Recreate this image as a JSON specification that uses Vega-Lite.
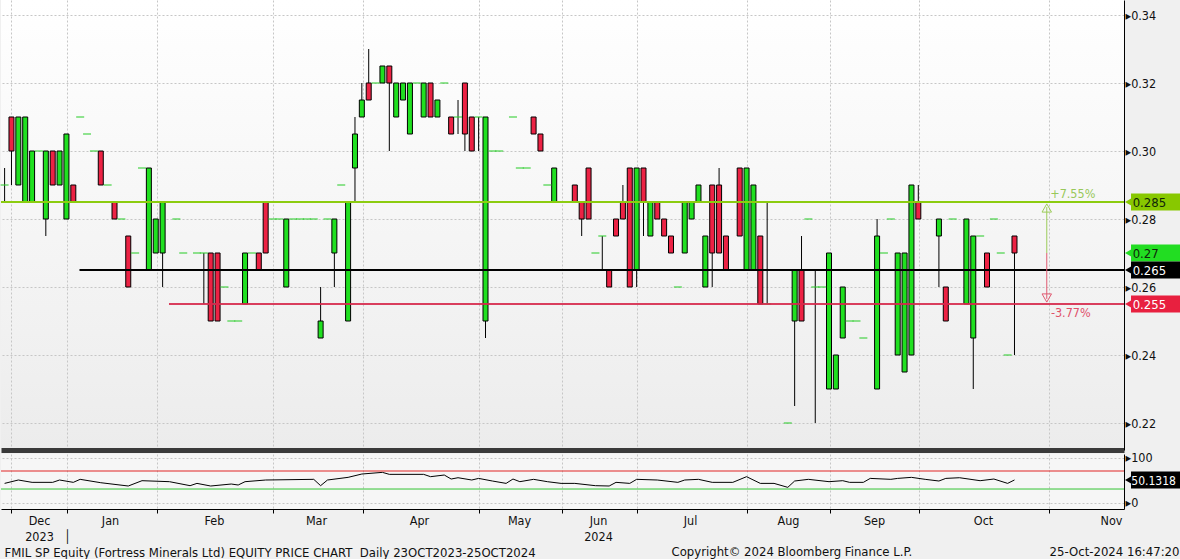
{
  "$schema": "https://vega.github.io/schema/vega-lite/v6.json",
  "background": "#f0f0f0",
  "padding": 0,
  "autosize": {"type": "pad"},
  "bounds": "flush",
  "spacing": 4,
  "config": {
    "view": {"stroke": null},
    "font": "DejaVu Sans Condensed, DejaVu Sans",
    "axis": {"labelFont": "DejaVu Sans Condensed, DejaVu Sans", "titleFont": "DejaVu Sans Condensed, DejaVu Sans", "labelFontSize": 12.5, "labelColor": "#111111", "titleFontSize": 13, "titleFontWeight": "normal", "titleColor": "#111111"},
    "text": {"font": "DejaVu Sans Condensed, DejaVu Sans"}
  },
  "datasets": {
    "one": [{}],
    "candles": [
      {"i":0,"o":0.29,"h":0.295,"l":0.285,"c":0.29},
      {"i":1,"o":0.31,"h":0.31,"l":0.29,"c":0.30},
      {"i":2,"o":0.29,"h":0.31,"l":0.29,"c":0.31},
      {"i":3,"o":0.285,"h":0.31,"l":0.285,"c":0.31},
      {"i":4,"o":0.285,"h":0.30,"l":0.285,"c":0.30},
      {"i":5,"o":0.30,"h":0.30,"l":0.30,"c":0.30},
      {"i":6,"o":0.28,"h":0.30,"l":0.275,"c":0.30},
      {"i":7,"o":0.30,"h":0.30,"l":0.29,"c":0.29},
      {"i":8,"o":0.29,"h":0.30,"l":0.29,"c":0.30},
      {"i":9,"o":0.28,"h":0.305,"l":0.28,"c":0.305},
      {"i":10,"o":0.29,"h":0.29,"l":0.285,"c":0.285},
      {"i":11,"o":0.31,"h":0.31,"l":0.31,"c":0.31},
      {"i":12,"o":0.305,"h":0.305,"l":0.305,"c":0.305},
      {"i":13,"o":0.30,"h":0.30,"l":0.30,"c":0.30},
      {"i":14,"o":0.30,"h":0.30,"l":0.29,"c":0.29},
      {"i":15,"o":0.29,"h":0.29,"l":0.29,"c":0.29},
      {"i":16,"o":0.285,"h":0.285,"l":0.28,"c":0.28},
      {"i":17,"o":0.28,"h":0.28,"l":0.28,"c":0.28},
      {"i":18,"o":0.275,"h":0.275,"l":0.26,"c":0.26},
      {"i":19,"o":0.27,"h":0.27,"l":0.27,"c":0.27},
      {"i":20,"o":0.295,"h":0.295,"l":0.295,"c":0.295},
      {"i":21,"o":0.265,"h":0.295,"l":0.265,"c":0.295},
      {"i":22,"o":0.27,"h":0.28,"l":0.27,"c":0.28},
      {"i":23,"o":0.27,"h":0.285,"l":0.26,"c":0.285},
      {"i":25,"o":0.28,"h":0.28,"l":0.28,"c":0.28},
      {"i":26,"o":0.27,"h":0.27,"l":0.27,"c":0.27},
      {"i":28,"o":0.27,"h":0.27,"l":0.27,"c":0.27},
      {"i":29,"o":0.27,"h":0.27,"l":0.255,"c":0.27},
      {"i":30,"o":0.27,"h":0.27,"l":0.25,"c":0.25},
      {"i":31,"o":0.27,"h":0.27,"l":0.25,"c":0.25},
      {"i":32,"o":0.26,"h":0.26,"l":0.26,"c":0.26},
      {"i":33,"o":0.25,"h":0.25,"l":0.25,"c":0.25},
      {"i":34,"o":0.25,"h":0.25,"l":0.25,"c":0.25},
      {"i":35,"o":0.255,"h":0.27,"l":0.255,"c":0.27},
      {"i":36,"o":0.27,"h":0.27,"l":0.27,"c":0.27},
      {"i":37,"o":0.27,"h":0.27,"l":0.265,"c":0.265},
      {"i":38,"o":0.285,"h":0.285,"l":0.27,"c":0.27},
      {"i":39,"o":0.28,"h":0.28,"l":0.28,"c":0.28},
      {"i":40,"o":0.28,"h":0.28,"l":0.28,"c":0.28},
      {"i":41,"o":0.26,"h":0.28,"l":0.26,"c":0.28},
      {"i":42,"o":0.28,"h":0.28,"l":0.28,"c":0.28},
      {"i":43,"o":0.28,"h":0.28,"l":0.28,"c":0.28},
      {"i":44,"o":0.28,"h":0.28,"l":0.28,"c":0.28},
      {"i":45,"o":0.28,"h":0.28,"l":0.28,"c":0.28},
      {"i":46,"o":0.245,"h":0.26,"l":0.245,"c":0.25},
      {"i":47,"o":0.28,"h":0.28,"l":0.28,"c":0.28},
      {"i":48,"o":0.27,"h":0.28,"l":0.26,"c":0.28},
      {"i":49,"o":0.29,"h":0.29,"l":0.29,"c":0.29},
      {"i":50,"o":0.25,"h":0.285,"l":0.25,"c":0.285},
      {"i":51,"o":0.295,"h":0.31,"l":0.285,"c":0.305},
      {"i":52,"o":0.31,"h":0.32,"l":0.31,"c":0.315},
      {"i":53,"o":0.32,"h":0.33,"l":0.315,"c":0.315},
      {"i":54,"o":0.32,"h":0.32,"l":0.32,"c":0.32},
      {"i":55,"o":0.32,"h":0.325,"l":0.32,"c":0.325},
      {"i":56,"o":0.325,"h":0.325,"l":0.30,"c":0.32},
      {"i":57,"o":0.31,"h":0.32,"l":0.31,"c":0.32},
      {"i":58,"o":0.315,"h":0.32,"l":0.315,"c":0.32},
      {"i":59,"o":0.305,"h":0.32,"l":0.305,"c":0.32},
      {"i":60,"o":0.32,"h":0.32,"l":0.32,"c":0.32},
      {"i":61,"o":0.31,"h":0.32,"l":0.31,"c":0.32},
      {"i":62,"o":0.32,"h":0.32,"l":0.31,"c":0.31},
      {"i":63,"o":0.31,"h":0.315,"l":0.31,"c":0.315},
      {"i":64,"o":0.32,"h":0.32,"l":0.32,"c":0.32},
      {"i":65,"o":0.31,"h":0.31,"l":0.305,"c":0.305},
      {"i":66,"o":0.31,"h":0.315,"l":0.305,"c":0.31},
      {"i":67,"o":0.32,"h":0.32,"l":0.30,"c":0.305},
      {"i":68,"o":0.31,"h":0.31,"l":0.30,"c":0.30},
      {"i":69,"o":0.31,"h":0.31,"l":0.30,"c":0.31},
      {"i":70,"o":0.25,"h":0.31,"l":0.245,"c":0.31},
      {"i":71,"o":0.30,"h":0.30,"l":0.30,"c":0.30},
      {"i":72,"o":0.30,"h":0.30,"l":0.30,"c":0.30},
      {"i":74,"o":0.31,"h":0.31,"l":0.31,"c":0.31},
      {"i":75,"o":0.295,"h":0.295,"l":0.295,"c":0.295},
      {"i":76,"o":0.295,"h":0.295,"l":0.295,"c":0.295},
      {"i":77,"o":0.31,"h":0.31,"l":0.305,"c":0.305},
      {"i":78,"o":0.305,"h":0.305,"l":0.30,"c":0.30},
      {"i":79,"o":0.29,"h":0.29,"l":0.29,"c":0.29},
      {"i":80,"o":0.285,"h":0.295,"l":0.285,"c":0.295},
      {"i":83,"o":0.29,"h":0.29,"l":0.285,"c":0.285},
      {"i":84,"o":0.285,"h":0.285,"l":0.275,"c":0.28},
      {"i":85,"o":0.295,"h":0.295,"l":0.28,"c":0.28},
      {"i":86,"o":0.27,"h":0.27,"l":0.27,"c":0.27},
      {"i":87,"o":0.275,"h":0.275,"l":0.265,"c":0.275},
      {"i":88,"o":0.265,"h":0.265,"l":0.26,"c":0.26},
      {"i":89,"o":0.28,"h":0.28,"l":0.275,"c":0.275},
      {"i":90,"o":0.285,"h":0.29,"l":0.28,"c":0.28},
      {"i":91,"o":0.295,"h":0.295,"l":0.26,"c":0.26},
      {"i":92,"o":0.265,"h":0.295,"l":0.26,"c":0.295},
      {"i":93,"o":0.295,"h":0.295,"l":0.275,"c":0.285},
      {"i":94,"o":0.275,"h":0.285,"l":0.275,"c":0.285},
      {"i":95,"o":0.285,"h":0.285,"l":0.28,"c":0.28},
      {"i":96,"o":0.28,"h":0.28,"l":0.275,"c":0.275},
      {"i":97,"o":0.275,"h":0.275,"l":0.27,"c":0.27},
      {"i":98,"o":0.26,"h":0.26,"l":0.26,"c":0.26},
      {"i":99,"o":0.27,"h":0.285,"l":0.27,"c":0.285},
      {"i":100,"o":0.28,"h":0.285,"l":0.28,"c":0.285},
      {"i":101,"o":0.285,"h":0.29,"l":0.285,"c":0.29},
      {"i":102,"o":0.26,"h":0.275,"l":0.26,"c":0.275},
      {"i":103,"o":0.29,"h":0.29,"l":0.26,"c":0.27},
      {"i":104,"o":0.29,"h":0.295,"l":0.27,"c":0.27},
      {"i":105,"o":0.275,"h":0.275,"l":0.265,"c":0.265},
      {"i":107,"o":0.295,"h":0.295,"l":0.275,"c":0.275},
      {"i":108,"o":0.265,"h":0.295,"l":0.265,"c":0.295},
      {"i":109,"o":0.265,"h":0.29,"l":0.265,"c":0.29},
      {"i":110,"o":0.275,"h":0.275,"l":0.255,"c":0.255},
      {"i":111,"o":0.255,"h":0.285,"l":0.255,"c":0.255},
      {"i":114,"o":0.22,"h":0.22,"l":0.22,"c":0.22},
      {"i":115,"o":0.25,"h":0.265,"l":0.225,"c":0.265},
      {"i":116,"o":0.265,"h":0.275,"l":0.25,"c":0.25},
      {"i":117,"o":0.28,"h":0.28,"l":0.28,"c":0.28},
      {"i":118,"o":0.26,"h":0.265,"l":0.22,"c":0.26},
      {"i":119,"o":0.26,"h":0.26,"l":0.26,"c":0.26},
      {"i":120,"o":0.23,"h":0.27,"l":0.23,"c":0.27},
      {"i":121,"o":0.23,"h":0.24,"l":0.23,"c":0.24},
      {"i":122,"o":0.245,"h":0.26,"l":0.245,"c":0.26},
      {"i":123,"o":0.25,"h":0.25,"l":0.25,"c":0.25},
      {"i":124,"o":0.25,"h":0.25,"l":0.25,"c":0.25},
      {"i":125,"o":0.245,"h":0.245,"l":0.245,"c":0.245},
      {"i":127,"o":0.23,"h":0.28,"l":0.23,"c":0.275},
      {"i":128,"o":0.27,"h":0.27,"l":0.27,"c":0.27},
      {"i":129,"o":0.28,"h":0.28,"l":0.28,"c":0.28},
      {"i":130,"o":0.24,"h":0.27,"l":0.24,"c":0.27},
      {"i":131,"o":0.235,"h":0.27,"l":0.235,"c":0.27},
      {"i":132,"o":0.24,"h":0.29,"l":0.24,"c":0.29},
      {"i":133,"o":0.285,"h":0.29,"l":0.28,"c":0.28},
      {"i":136,"o":0.275,"h":0.28,"l":0.26,"c":0.28},
      {"i":137,"o":0.26,"h":0.26,"l":0.25,"c":0.25},
      {"i":138,"o":0.28,"h":0.28,"l":0.28,"c":0.28},
      {"i":140,"o":0.255,"h":0.28,"l":0.255,"c":0.28},
      {"i":141,"o":0.245,"h":0.275,"l":0.23,"c":0.275},
      {"i":142,"o":0.275,"h":0.275,"l":0.275,"c":0.275},
      {"i":143,"o":0.27,"h":0.27,"l":0.26,"c":0.26},
      {"i":144,"o":0.28,"h":0.28,"l":0.28,"c":0.28},
      {"i":145,"o":0.27,"h":0.27,"l":0.27,"c":0.27},
      {"i":146,"o":0.24,"h":0.24,"l":0.24,"c":0.24},
      {"i":147,"o":0.275,"h":0.275,"l":0.24,"c":0.27}
    ],
    "rsi": [
      {"i":0,"v":42.5},{"i":2,"v":50.0},{"i":4,"v":44.8},{"i":7,"v":44.8},{"i":8,"v":50.0},
      {"i":10,"v":44.8},{"i":11,"v":51.5},{"i":14,"v":44.0},{"i":18,"v":36.7},{"i":20,"v":48.5},
      {"i":24,"v":46.3},{"i":27,"v":37.4},{"i":28,"v":42.5},{"i":30,"v":36.7},{"i":33,"v":41.1},
      {"i":34,"v":38.9},{"i":35,"v":46.3},{"i":38,"v":50.0},{"i":45,"v":51.5},{"i":46,"v":37.4},
      {"i":47,"v":50.0},{"i":50,"v":55.9},{"i":52,"v":63.3},{"i":55,"v":67.0},{"i":56,"v":62.6},
      {"i":61,"v":62.6},{"i":62,"v":57.4},{"i":64,"v":61.1},{"i":65,"v":52.2},{"i":66,"v":55.1},
      {"i":68,"v":50.0},{"i":69,"v":53.6},{"i":71,"v":47.8},{"i":73,"v":42.5},{"i":74,"v":52.2},
      {"i":75,"v":46.3},{"i":77,"v":51.5},{"i":79,"v":46.3},{"i":81,"v":42.5},{"i":83,"v":42.5},
      {"i":86,"v":37.4},{"i":88,"v":36.7},{"i":89,"v":44.8},{"i":91,"v":42.5},{"i":92,"v":51.5},
      {"i":95,"v":50.0},{"i":98,"v":44.8},{"i":99,"v":50.0},{"i":101,"v":51.5},{"i":103,"v":44.8},
      {"i":106,"v":44.8},{"i":108,"v":57.4},{"i":110,"v":42.5},{"i":112,"v":42.5},{"i":114,"v":33.7},
      {"i":115,"v":47.8},{"i":117,"v":51.5},{"i":120,"v":46.3},{"i":122,"v":48.5},{"i":123,"v":44.8},
      {"i":125,"v":44.8},{"i":126,"v":53.6},{"i":129,"v":51.5},{"i":130,"v":53.6},{"i":132,"v":55.9},
      {"i":134,"v":51.5},{"i":136,"v":47.8},{"i":137,"v":53.6},{"i":139,"v":55.1},{"i":142,"v":48.5},
      {"i":144,"v":52.2},{"i":146,"v":42.5},{"i":147,"v":50.13}
    ],
    "tags": [
      {"level":0.285,"label":"0.285","kind":"high"},
      {"level":0.27,"label":"0.27","kind":"last"},
      {"level":0.265,"label":"0.265","kind":"average"},
      {"level":0.255,"label":"0.255","kind":"low"}
    ]
  },
  "vconcat": [
    {
      "width": 1123,
      "height": 450,
      "view": {"stroke": null, "fill": {"gradient": "linear", "x1": 0, "y1": 0, "x2": 0, "y2": 1, "stops": [{"offset": 0, "color": "#ffffff"}, {"offset": 1, "color": "#ececec"}]}},
      "layer": [
        {
          "data": {"name": "candles"},
          "mark": {"type": "rule", "color": "#000000", "strokeWidth": 1},
          "encoding": {
            "x": {"field": "i", "type": "quantitative", "scale": {"domain": [-0.524, 162.94], "nice": false, "zero": false, "padding": 0},
              "axis": {"orient": "bottom", "values": [0.93,9.08,22.18,39.07,52.17,69.06,81.13,92.05,108.06,120.14,133.1,152.02], "grid": true, "gridColor": "#c6c6c6", "gridDash": [2,2], "labels": false, "ticks": false, "domain": true, "domainColor": "#3a3a3a", "domainWidth": 5, "title": "Copyright© 2024 Bloomberg Finance L.P.", "titleX": 670, "titleY": 101, "titleAlign": "left", "titleBaseline": "middle", "titlePadding": 0}},
            "y": {"field": "l", "type": "quantitative", "scale": {"domain": [0.212059, 0.344412], "nice": false, "zero": false, "padding": 0},
              "axis": {"orient": "right", "values": [0.22,0.23,0.24,0.25,0.26,0.27,0.28,0.29,0.30,0.31,0.32,0.33,0.34], "labelExpr": "round(datum.value*100) % 2 == 0 ? '▸' + format(datum.value, '.2f') : ''", "tickSize": 6, "tickColor": {"condition": {"test": "round(datum.value*100) % 2 == 1", "value": "#000000"}, "value": "transparent"}, "labelPadding": -5, "grid": true, "gridColor": {"condition": {"test": "round(datum.value*100) % 2 == 0", "value": "#c6c6c6"}, "value": "transparent"}, "gridDash": [2,2], "domainColor": "#000000", "domainWidth": 1, "title": null, "labelOverlap": false, "labelBound": false, "labelFlush": false}},
            "y2": {"field": "h"}
          }
        },
        {
          "data": {"name": "candles"},
          "transform": [{"filter": "datum.o != datum.c"}],
          "mark": {"type": "bar", "width": 5, "stroke": "#000000", "strokeWidth": 1},
          "encoding": {
            "x": {"field": "i", "type": "quantitative"},
            "y": {"field": "o", "type": "quantitative"},
            "y2": {"field": "c"},
            "fill": {"condition": {"test": "datum.c > datum.o", "value": "#20e020"}, "value": "#ec2244"}
          }
        },
        {
          "data": {"name": "candles"},
          "transform": [{"filter": "datum.o == datum.c"}],
          "mark": {"type": "tick", "orient": "horizontal", "size": 8, "thickness": 1.5, "color": "#2fcf2f"},
          "encoding": {
            "x": {"field": "i", "type": "quantitative"},
            "y": {"field": "c", "type": "quantitative"}
          }
        },
        {
          "data": {"name": "one"},
          "mark": {"type": "rule", "color": "#8ccc10", "strokeWidth": 2},
          "encoding": {"y": {"datum": 0.285}}
        },
        {
          "data": {"name": "one"},
          "mark": {"type": "rule", "color": "#000000", "strokeWidth": 2},
          "encoding": {"x": {"datum": 10.9}, "x2": {"datum": 162.94}, "y": {"datum": 0.265}}
        },
        {
          "data": {"name": "one"},
          "mark": {"type": "rule", "color": "#d62a4c", "strokeWidth": 2, "opacity": 0.9},
          "encoding": {"x": {"datum": 23.93}, "x2": {"datum": 162.94}, "y": {"datum": 0.255}}
        },
        {
          "data": {"name": "one"},
          "mark": {"type": "rule", "color": "#9ccc5a", "strokeWidth": 1},
          "encoding": {"x": {"datum": 151.7}, "y": {"datum": 0.2835}, "y2": {"datum": 0.27}}
        },
        {
          "data": {"name": "one"},
          "mark": {"type": "rule", "color": "#e05a72", "strokeWidth": 1},
          "encoding": {"x": {"datum": 151.7}, "y": {"datum": 0.27}, "y2": {"datum": 0.2565}}
        },
        {
          "data": {"name": "one"},
          "mark": {"type": "point", "shape": "triangle-up", "filled": false, "color": "#9ccc5a", "strokeWidth": 1, "size": 90, "yOffset": 6, "opacity": 1},
          "encoding": {"x": {"datum": 151.7}, "y": {"datum": 0.285}}
        },
        {
          "data": {"name": "one"},
          "mark": {"type": "point", "shape": "triangle-down", "filled": false, "color": "#e05a72", "strokeWidth": 1, "size": 90, "yOffset": -6, "opacity": 1},
          "encoding": {"x": {"datum": 151.7}, "y": {"datum": 0.255}}
        },
        {
          "data": {"name": "one"},
          "mark": {"type": "text", "text": "+7.55%", "align": "left", "baseline": "bottom", "dy": -1, "fontSize": 12.5, "color": "#98c85a"},
          "encoding": {"x": {"datum": 152.2}, "y": {"datum": 0.285}}
        },
        {
          "data": {"name": "one"},
          "mark": {"type": "text", "text": "-3.77%", "align": "left", "baseline": "top", "dy": 3, "fontSize": 12.5, "color": "#e0506a"},
          "encoding": {"x": {"datum": 152.3}, "y": {"datum": 0.255}}
        },
        {
          "data": {"name": "tags"},
          "mark": {"type": "tick", "orient": "horizontal", "size": 50, "thickness": 17, "opacity": 1},
          "encoding": {
            "x": {"datum": 167.6},
            "y": {"field": "level", "type": "quantitative"},
            "color": {"field": "kind", "type": "nominal", "scale": {"domain": ["high","last","average","low"], "range": ["#88c800","#22dd22","#000000","#e8203f"]}, "legend": null}
          }
        },
        {
          "data": {"name": "tags"},
          "mark": {"type": "point", "shape": "triangle-left", "filled": true, "size": 110, "opacity": 1},
          "encoding": {
            "x": {"datum": 163.75},
            "y": {"field": "level", "type": "quantitative"},
            "color": {"field": "kind", "type": "nominal", "legend": null}
          }
        },
        {
          "data": {"name": "tags"},
          "mark": {"type": "text", "align": "left", "baseline": "middle", "fontSize": 13, "dy": 1},
          "encoding": {
            "x": {"datum": 164.2},
            "y": {"field": "level", "type": "quantitative"},
            "text": {"field": "label"},
            "color": {"condition": {"test": "datum.kind == 'average' || datum.kind == 'low'", "value": "#ffffff"}, "value": "#10240a"}
          }
        }
      ]
    },
    {
      "width": 1123,
      "height": 55,
      "view": {"stroke": null, "fill": "#f6f6f6"},
      "layer": [
        {
          "data": {"name": "rsi"},
          "mark": {"type": "line", "color": "#000000", "strokeWidth": 1},
          "encoding": {
            "x": {"field": "i", "type": "quantitative", "scale": {"domain": [-0.524, 162.94], "nice": false, "zero": false, "padding": 0},
              "axis": {"orient": "bottom",
                "values": [0.93,5.01,9.08,15.34,22.18,30.48,39.07,45.33,52.17,60.32,69.06,74.88,81.13,86.38,92.05,99.77,108.06,114.03,120.14,126.55,133.1,142.42,152.02,161.05],
                "labelExpr": "datum.value == 5.01 ? ['Dec','2023'] : datum.value == 15.34 ? 'Jan' : datum.value == 30.48 ? 'Feb' : datum.value == 45.33 ? 'Mar' : datum.value == 60.32 ? 'Apr' : datum.value == 74.88 ? 'May' : datum.value == 86.38 ? ['Jun','2024'] : datum.value == 99.77 ? 'Jul' : datum.value == 114.03 ? 'Aug' : datum.value == 126.55 ? 'Sep' : datum.value == 142.42 ? 'Oct' : datum.value == 161.05 ? 'Nov' : datum.value == 9.08 ? ['', '│'] : ''",
                "tickSize": 4,
                "tickColor": {"condition": {"test": "indexof([0.93,9.08,22.18,39.07,52.17,69.06,81.13,92.05,108.06,120.14,133.1,152.02], datum.value) >= 0", "value": "#000000"}, "value": "transparent"},
                "grid": true,
                "gridColor": {"condition": {"test": "indexof([0.93,9.08,22.18,39.07,52.17,69.06,81.13,92.05,108.06,120.14,133.1,152.02], datum.value) >= 0", "value": "#c6c6c6"}, "value": "transparent"},
                "gridDash": [2,2],
                "domainColor": "#000000",
                "labelPadding": 1,
                "labelLineHeight": 16,
                "labelOverlap": false,
                "labelFlush": false,
                "labelBound": false,
                "title": "FMIL SP Equity (Fortress Minerals Ltd) EQUITY PRICE CHART\u00a0\u00a0Daily 23OCT2023-25OCT2024",
                "titleX": 3, "titleY": 43, "titleAlign": "left", "titleBaseline": "middle", "titlePadding": 0}},
            "y": {"field": "v", "type": "quantitative", "scale": {"domain": [-14.4, 107.8], "nice": false, "zero": false, "padding": 0},
              "axis": {"orient": "right", "values": [0, 50, 100], "labelExpr": "datum.value == 50 ? '' : '▸' + datum.value", "tickSize": 6, "tickColor": "transparent", "labelPadding": -5, "grid": true, "gridColor": "#c6c6c6", "gridDash": [2,2], "domainColor": "#000000",
                "title": "25-Oct-2024 16:47:20", "titleAngle": 0, "titleX": 55, "titleY": 97, "titleAlign": "right", "titleBaseline": "middle", "titlePadding": 0, "labelOverlap": false, "labelBound": false, "labelFlush": false}}
          }
        },
        {
          "data": {"name": "one"},
          "mark": {"type": "rule", "color": "#e02424", "strokeWidth": 1},
          "encoding": {"y": {"datum": 70}}
        },
        {
          "data": {"name": "one"},
          "mark": {"type": "rule", "color": "#33c433", "strokeWidth": 1},
          "encoding": {"y": {"datum": 30}}
        },
        {
          "data": {"name": "one"},
          "mark": {"type": "tick", "orient": "horizontal", "size": 50, "thickness": 17, "color": "#000000", "opacity": 1},
          "encoding": {"x": {"datum": 167.6}, "y": {"datum": 50.13}}
        },
        {
          "data": {"name": "one"},
          "mark": {"type": "point", "shape": "triangle-left", "filled": true, "size": 110, "color": "#000000", "opacity": 1},
          "encoding": {"x": {"datum": 163.75}, "y": {"datum": 50.13}}
        },
        {
          "data": {"name": "one"},
          "mark": {"type": "text", "text": "50.1318", "align": "left", "baseline": "middle", "fontSize": 12, "dy": 1, "color": "#ffffff"},
          "encoding": {"x": {"datum": 164.0}, "y": {"datum": 50.13}}
        }
      ]
    }
  ]
}
